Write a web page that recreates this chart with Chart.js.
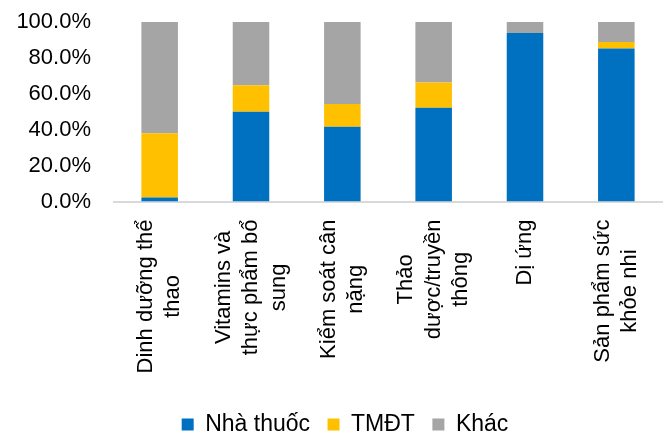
<!DOCTYPE html>
<html>
<head>
<meta charset="utf-8">
<script src="https://cdn.jsdelivr.net/npm/chart.js@4"></script>
<style>
  html, body { margin: 0; padding: 0; background: #fff; }
  #wrap { width: 665px; height: 434px; }
</style>
</head>
<body>
<div id="wrap"><canvas id="chart"></canvas></div>
<script>
// dữ liệu (%)
const categories = [
    ['Dinh dưỡng thể', 'thao'],
    ['Vitamins và', 'thực phẩm bổ', 'sung'],
    ['Kiểm soát cân', 'nặng'],
    ['Thảo', 'dược/truyền', 'thông'],
    'Dị ứng',
    ['Sản phẩm sức', 'khỏe nhi']
];
const nhaThuoc = [2.2, 50.0, 41.7, 52.2, 93.9, 85.2];
const tmdt = [35.8, 14.8, 12.6, 14.1, 0, 3.7];
const khac = [62.0, 35.2, 45.7, 33.7, 6.1, 11.1];
const yTicks = [0, 20, 40, 60, 80, 100];

// nhãn xoay: căn giữa khối nhiều dòng quanh cột, như Excel
const excelLike = {
    id: 'excelLike',
    afterLayout(chart) {
        // dịch chú giải sang phải một chút
        chart.legend.left += 14;
        chart.legend.right += 14;
    },
    beforeDraw(chart) {
        const scale = chart.scales.x;
        const ctx = chart.ctx;
        scale.getLabelItems().forEach(item => {
            if (item._centered) return;
            ctx.save();
            ctx.font = item.font.string;
            const lines = Array.isArray(item.label) ? item.label : [item.label];
            const w = Math.max(...lines.map(l => ctx.measureText(l).width));
            ctx.restore();
            const [tx, ty] = item.options.translation;
            item.options.textAlign = 'center';
            item.options.translation = [tx - (lines.length - 1) * item.font.lineHeight / 2, ty + w / 2];
            item._centered = true;
        });
    }
};

const font = { family: '"Liberation Sans", Arial, sans-serif', size: 22, lineHeight: 1.25 };

new Chart(document.getElementById('chart'), {
    type: 'bar',
    data: {
        labels: categories,
        datasets: [
            { label: 'Nhà thuốc', data: nhaThuoc, backgroundColor: '#0070C0' },
            { label: 'TMĐT', data: tmdt, backgroundColor: '#FFC000' },
            { label: 'Khác', data: khac, backgroundColor: '#A5A5A5' }
        ]
    },
    options: {
        responsive: true,
        maintainAspectRatio: false,
        animation: false,
        barPercentage: 0.4,
        categoryPercentage: 1,
        layout: { padding: { top: 22, left: 0, right: 3, bottom: -12 } },
        plugins: {
            legend: {
                position: 'bottom',
                labels: {
                    font: { family: font.family, size: 23 },
                    color: '#000',
                    boxWidth: 12,
                    boxHeight: 12,
                    padding: 17.5
                }
            },
            tooltip: { enabled: false }
        },
        scales: {
            x: {
                stacked: true,
                grid: { display: false, drawTicks: false },
                border: { display: true, color: '#D9D9D9', width: 2 },
                ticks: {
                    font: font,
                    color: '#000',
                    autoSkip: false,
                    minRotation: 90,
                    maxRotation: 90,
                    padding: 18
                },
                afterFit: scale => {
                    scale.height = 194;
                    scale.paddingLeft = 0;
                    scale.paddingRight = 0;
                }
            },
            y: {
                stacked: true,
                min: 0,
                max: 100,
                grid: { display: false, drawTicks: false },
                border: { display: false },
                afterBuildTicks: axis => { axis.ticks = yTicks.map(v => ({ value: v })); },
                ticks: {
                    font: { family: font.family, size: 22 },
                    color: '#000',
                    padding: 23,
                    callback: v => v.toFixed(1) + '%'
                },
                afterFit: scale => {
                    scale.width = 114;
                    scale.paddingTop = 0;
                    scale.paddingBottom = 0;
                }
            }
        }
    },
    plugins: [excelLike]
});
</script>
</body>
</html>
